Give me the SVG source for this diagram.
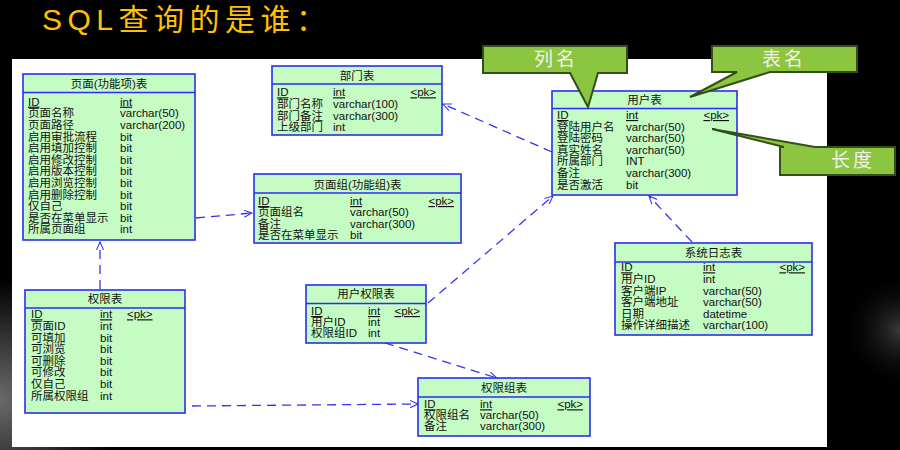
<svg xmlns="http://www.w3.org/2000/svg" width="900" height="450" viewBox="0 0 900 450">
<defs>
<radialGradient id="bgl" cx="0" cy="400" r="120" gradientUnits="userSpaceOnUse">
<stop offset="0" stop-color="#6a6a6a"/><stop offset="1" stop-color="#000"/>
</radialGradient>
<radialGradient id="bgr" cx="900" cy="330" r="60" gradientUnits="userSpaceOnUse">
<stop offset="0" stop-color="#3a3a3a"/><stop offset="1" stop-color="#000" stop-opacity="0"/>
</radialGradient>
<marker id="arr" viewBox="0 0 10 10" refX="9" refY="5" markerWidth="9" markerHeight="9" orient="auto" markerUnits="userSpaceOnUse">
<path d="M0,1 L9,5 L0,9" fill="none" stroke="#3434f0" stroke-width="1.2"/>
</marker>
<style>
.tb{fill:#c4fcc4;stroke:#2c2cf2;stroke-width:1.6}
.hl{stroke:#2c2cf2;stroke-width:1.4}
text{font-family:"Liberation Sans","Noto Sans CJK SC",sans-serif;font-size:11.5px;fill:#111}
.h{text-anchor:middle}
.u{text-decoration:underline}
.pk{text-anchor:end;text-decoration:underline}
.pkl{text-decoration:underline}
.cn path{stroke:#3434f0;stroke-width:1.3;stroke-dasharray:9 6;fill:none;marker-end:url(#arr)}
.co{fill:#8cc540;stroke:#33501a;stroke-width:2}
.ct{font-family:"Noto Sans CJK SC",sans-serif;font-size:19px;fill:#f2f2ee;text-anchor:middle;letter-spacing:3px}
.title{font-family:"Liberation Sans","Noto Sans CJK SC",sans-serif;font-size:30px;fill:#ffc000;letter-spacing:5.5px}
</style>
</defs>
<rect width="900" height="450" fill="#000"/>
<rect width="900" height="450" fill="url(#bgl)"/>
<rect x="820" width="80" height="450" fill="url(#bgr)"/>
<text class="title" x="42" y="30">SQL查询的是谁：</text>
<rect x="12" y="59" width="815" height="388" fill="#fff"/>

<g id="connectors" class="cn">
<path d="M552,152 L443,104"/>
<path d="M196,218 L252,213"/>
<path d="M100,289 L100,242"/>
<path d="M428,303 L553,196"/>
<path d="M692,242 L649,196"/>
<path d="M385,343 L497,378"/>
<path d="M192,406 L418,404"/>
</g>

<g id="t_page">
<rect class="tb" x="23" y="74" width="172" height="166"/>
<line class="hl" x1="23" y1="92.5" x2="195" y2="92.5"/>
<text class="h" x="109" y="88">页面(功能项)表</text>
<text class="u" x="28" y="105.7">ID</text><text class="u" x="120" y="105.7">int</text>
<text x="28" y="117.3">页面名称</text><text x="120" y="117.3">varchar(50)</text>
<text x="28" y="128.9">页面路径</text><text x="120" y="128.9">varchar(200)</text>
<text x="28" y="140.5">启用审批流程</text><text x="120" y="140.5">bit</text>
<text x="28" y="152.1">启用填加控制</text><text x="120" y="152.1">bit</text>
<text x="28" y="163.7">启用修改控制</text><text x="120" y="163.7">bit</text>
<text x="28" y="175.3">启用版本控制</text><text x="120" y="175.3">bit</text>
<text x="28" y="186.9">启用浏览控制</text><text x="120" y="186.9">bit</text>
<text x="28" y="198.5">启用删除控制</text><text x="120" y="198.5">bit</text>
<text x="28" y="210.1">仅自己</text><text x="120" y="210.1">bit</text>
<text x="28" y="221.7">是否在菜单显示</text><text x="120" y="221.7">bit</text>
<text x="28" y="233.3">所属页面组</text><text x="120" y="233.3">int</text>
</g>

<g id="t_dept">
<rect class="tb" x="272" y="66" width="170" height="69"/>
<line class="hl" x1="272" y1="84" x2="442" y2="84"/>
<text class="h" x="357" y="79.5">部门表</text>
<text class="u" x="277" y="96.3">ID</text><text class="u" x="333" y="96.3">int</text><text class="pk" x="436" y="96.3">&lt;pk&gt;</text>
<text x="277" y="107.9">部门名称</text><text x="333" y="107.9">varchar(100)</text>
<text x="277" y="119.5">部门备注</text><text x="333" y="119.5">varchar(300)</text>
<text x="277" y="131.1">上级部门</text><text x="333" y="131.1">int</text>
</g>

<g id="t_pagegroup">
<rect class="tb" x="254" y="174" width="207" height="69"/>
<line class="hl" x1="254" y1="193" x2="461" y2="193"/>
<text class="h" x="357.5" y="189">页面组(功能组)表</text>
<text class="u" x="258" y="205">ID</text><text class="u" x="350" y="205">int</text><text class="pk" x="454" y="205">&lt;pk&gt;</text>
<text x="258" y="216.3">页面组名</text><text x="350" y="216.3">varchar(50)</text>
<text x="258" y="227.6">备注</text><text x="350" y="227.6">varchar(300)</text>
<text x="258" y="238.9">是否在菜单显示</text><text x="350" y="238.9">bit</text>
</g>

<g id="t_user">
<rect class="tb" x="552" y="91" width="185" height="104"/>
<line class="hl" x1="552" y1="108.5" x2="737" y2="108.5"/>
<text class="h" x="644.5" y="104">用户表</text>
<text class="u" x="557" y="119">ID</text><text class="u" x="626" y="119">int</text><text class="pk" x="729" y="119">&lt;pk&gt;</text>
<text x="557" y="130.6">登陆用户名</text><text x="626" y="130.6">varchar(50)</text>
<text x="557" y="142.2">登陆密码</text><text x="626" y="142.2">varchar(50)</text>
<text x="557" y="153.8">真实姓名</text><text x="626" y="153.8">varchar(50)</text>
<text x="557" y="165.4">所属部门</text><text x="626" y="165.4">INT</text>
<text x="557" y="177">备注</text><text x="626" y="177">varchar(300)</text>
<text x="557" y="188.6">是否激活</text><text x="626" y="188.6">bit</text>
</g>

<g id="t_log">
<rect class="tb" x="615" y="243" width="197" height="92"/>
<line class="hl" x1="615" y1="262" x2="812" y2="262"/>
<text class="h" x="713.5" y="257">系统日志表</text>
<text class="u" x="621" y="271.3">ID</text><text class="u" x="703" y="271.3">int</text><text class="pk" x="805" y="271.3">&lt;pk&gt;</text>
<text x="621" y="282.9">用户ID</text><text x="703" y="282.9">int</text>
<text x="621" y="294.5">客户端IP</text><text x="703" y="294.5">varchar(50)</text>
<text x="621" y="306.1">客户端地址</text><text x="703" y="306.1">varchar(50)</text>
<text x="621" y="317.7">日期</text><text x="703" y="317.7">datetime</text>
<text x="621" y="329.3">操作详细描述</text><text x="703" y="329.3">varchar(100)</text>
</g>

<g id="t_perm">
<rect class="tb" x="25" y="290" width="160" height="123"/>
<line class="hl" x1="25" y1="308" x2="185" y2="308"/>
<text class="h" x="105" y="303">权限表</text>
<text class="u" x="31" y="318.3">ID</text><text class="u" x="100" y="318.3">int</text><text class="pkl" x="127" y="318.3">&lt;pk&gt;</text>
<text x="31" y="329.9">页面ID</text><text x="100" y="329.9">int</text>
<text x="31" y="341.5">可填加</text><text x="100" y="341.5">bit</text>
<text x="31" y="353.1">可浏览</text><text x="100" y="353.1">bit</text>
<text x="31" y="364.7">可删除</text><text x="100" y="364.7">bit</text>
<text x="31" y="376.3">可修改</text><text x="100" y="376.3">bit</text>
<text x="31" y="387.9">仅自己</text><text x="100" y="387.9">bit</text>
<text x="31" y="399.5">所属权限组</text><text x="100" y="399.5">int</text>
</g>

<g id="t_userperm">
<rect class="tb" x="306" y="285" width="120" height="58"/>
<line class="hl" x1="306" y1="303.5" x2="426" y2="303.5"/>
<text class="h" x="366" y="298">用户权限表</text>
<text class="u" x="311" y="315">ID</text><text class="u" x="368" y="315">int</text><text class="pk" x="420" y="315">&lt;pk&gt;</text>
<text x="311" y="326">用户ID</text><text x="368" y="326">int</text>
<text x="311" y="337">权限组ID</text><text x="368" y="337">int</text>
</g>

<g id="t_permgroup">
<rect class="tb" x="418" y="378" width="172" height="58"/>
<line class="hl" x1="418" y1="397" x2="590" y2="397"/>
<text class="h" x="504" y="392">权限组表</text>
<text class="u" x="424" y="408.3">ID</text><text class="u" x="480" y="408.3">int</text><text class="pk" x="583" y="408.3">&lt;pk&gt;</text>
<text x="424" y="419.3">权限组名</text><text x="480" y="419.3">varchar(50)</text>
<text x="424" y="430.3">备注</text><text x="480" y="430.3">varchar(300)</text>
</g>

<g id="callout_col">
<path class="co" d="M483,46 H627 V73 H598 L588,107 L570,73 H483 Z"/>
<text class="ct" x="556" y="66">列名</text>
</g>
<g id="callout_table">
<path class="co" d="M712,46 H857 V72 H770 L690,97 L737,72 H712 Z"/>
<text class="ct" x="784" y="66">表名</text>
</g>
<g id="callout_len">
<path class="co" d="M780,147 H784 L712,129 L815,147 H895 V175 H780 Z"/>
<text class="ct" x="853" y="167">长度</text>
</g>
</svg>
